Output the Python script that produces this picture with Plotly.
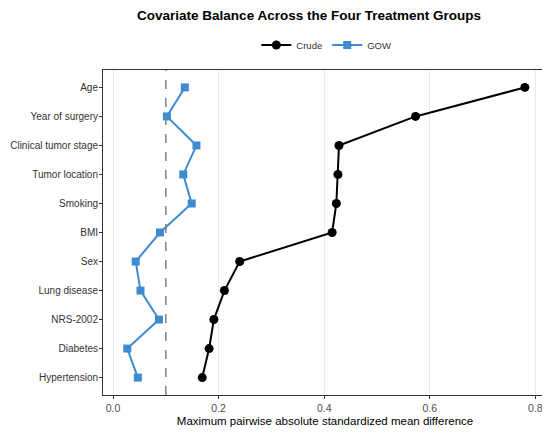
import plotly.graph_objects as go

# covariates, top to bottom
covariates = [
    "Age", "Year of surgery", "Clinical tumor stage", "Tumor location",
    "Smoking", "BMI", "Sex", "Lung disease", "NRS-2002", "Diabetes",
    "Hypertension",
]
crude_smd = [0.780, 0.573, 0.428, 0.426, 0.423, 0.415, 0.240, 0.211, 0.191, 0.182, 0.169]
gow_smd = [0.136, 0.102, 0.158, 0.133, 0.149, 0.089, 0.043, 0.052, 0.087, 0.027, 0.047]
x_ticks = [0.0, 0.2, 0.4, 0.6, 0.8]
threshold = 0.1

FONT = "Liberation Sans, Arial, sans-serif"
BLUE = "#3d8bd0"

fig = go.Figure()
fig.add_trace(go.Scatter(
    x=crude_smd, y=covariates, mode="lines+markers", name="Crude",
    line=dict(color="black", width=2),
    marker=dict(symbol="circle", size=9, color="black"),
))
fig.add_trace(go.Scatter(
    x=gow_smd, y=covariates, mode="lines+markers", name="GOW",
    line=dict(color=BLUE, width=2),
    marker=dict(symbol="square", size=8, color=BLUE),
))

fig.add_vline(x=threshold, line=dict(color="#808080", width=1.5, dash="dash"))

# page body has an 8px margin, so the figure is a bit smaller than the window
fig.update_layout(
    width=542, height=425,
    margin=dict(l=95, r=3, t=62, b=38, autoexpand=False),
    plot_bgcolor="white", paper_bgcolor="white",
    font=dict(family=FONT, size=11, color="#333333"),
    title=dict(
        text="<b>Covariate Balance Across the Four Treatment Groups</b>",
        x=0.464, xref="paper", xanchor="center", y=0.982, yanchor="middle",
        font=dict(size=13.5, color="black"),
    ),
    legend=dict(
        orientation="h", x=0.503, xanchor="center", y=1.077, yanchor="middle",
        font=dict(size=9.5, color="#333333"), itemwidth=30,
    ),
    showlegend=True,
)
fig.update_xaxes(
    range=[-0.019, 0.822], tickvals=x_ticks, ticktext=[f"{v:.1f}" for v in x_ticks],
    showgrid=True, gridcolor="#ebebeb", gridwidth=1, zeroline=False,
    showline=True, linecolor="#333333", linewidth=1, mirror=True,
    ticks="outside", ticklen=3, tickcolor="#333333",
    tickfont=dict(size=10.5, color="#4d4d4d"), automargin=False,
    title=dict(text="Maximum pairwise absolute standardized mean difference",
               font=dict(size=11.5, color="black"), standoff=4),
)
fig.update_yaxes(
    categoryorder="array", categoryarray=covariates,
    range=[len(covariates) - 0.4, -0.6],
    showgrid=False, zeroline=False,
    showline=True, linecolor="#333333", linewidth=1, mirror=True,
    ticks="outside", ticklen=3, tickcolor="#333333", ticklabelstandoff=-1,
    tickfont=dict(size=10, color="#333333"), automargin=False,
)

fig.write_html("out.html")
